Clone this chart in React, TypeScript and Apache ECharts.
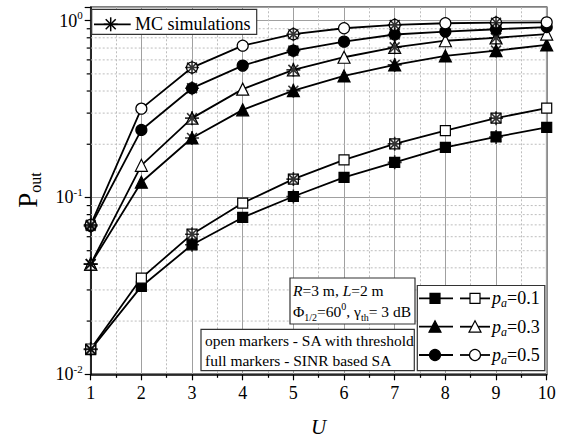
import React, { useEffect, useRef } from 'react';
import * as echarts from 'echarts';

// ---------- data ----------
const U = [1, 2, 3, 4, 5, 6, 7, 8, 9, 10];
// open markers - SA with threshold ; full markers - SINR based SA
const pa05Thr = [0.070, 0.318, 0.543, 0.722, 0.838, 0.906, 0.946, 0.967, 0.974, 0.978];
const pa05Sinr = [0.069, 0.241, 0.415, 0.557, 0.677, 0.761, 0.835, 0.867, 0.894, 0.92];
const pa03Thr = [0.042, 0.152, 0.281, 0.41, 0.527, 0.621, 0.707, 0.77, 0.8, 0.84];
const pa03Sinr = [0.042, 0.122, 0.217, 0.313, 0.402, 0.487, 0.562, 0.632, 0.677, 0.729];
const pa01Thr = [0.0139, 0.035, 0.062, 0.093, 0.127, 0.163, 0.201, 0.239, 0.281, 0.32];
const pa01Sinr = [0.0138, 0.0314, 0.054, 0.0771, 0.1013, 0.13, 0.158, 0.192, 0.22, 0.249];

// Monte Carlo simulation points
const mcU = [1, 3, 5, 7, 9];
const mcPa05Thr = [0.07, 0.543, 0.838, 0.946, 0.974];
const mcPa05Sinr = [0.069, 0.415, 0.677, 0.835, 0.894];
const mcPa03Thr = [0.042, 0.281, 0.527, 0.707, 0.8];
const mcPa03Sinr = [0.042, 0.217, 0.402, 0.562, 0.677];
const mcPa01Thr = [0.0139, 0.062, 0.127, 0.201, 0.281];
const mcPa01Sinr = [0.0138, 0.054, 0.1013, 0.158, 0.22];

const yMinorValues = [0.02, 0.03, 0.04, 0.05, 0.06, 0.07, 0.08, 0.09, 0.2, 0.3, 0.4, 0.5, 0.6, 0.7, 0.8, 0.9];
const legendLabels = ['0.1', '0.3', '0.5'];

const FONT = 'Liberation Serif';
const ASTERISK = 'path://M0,-6L0,6M-6,0L6,0M-4.24,-4.24L4.24,4.24M-4.24,4.24L4.24,-4.24';

const GRID = { left: 90.7, right: 21.3, top: 7.3, bottom: 63.7 };

function lineSeries(name: string, vals: number[], symbol: string, size: number, open: boolean) {
  return {
    type: 'line',
    name,
    data: U.map((u, i) => [u, vals[i]]),
    symbol,
    symbolSize: size,
    showAllSymbol: true,
    lineStyle: { color: '#000', width: 1.8 },
    itemStyle: { color: open ? '#fff' : '#000', borderColor: '#000', borderWidth: 1.2 },
    silent: true,
    z: 3,
  };
}

function mcSeries(vals: number[]) {
  return {
    type: 'scatter',
    name: 'MC simulations',
    data: mcU.map((u, i) => [u, vals[i]]),
    symbol: ASTERISK,
    symbolSize: 14,
    itemStyle: { color: 'rgba(0,0,0,0)', borderColor: '#000', borderWidth: 1.6 },
    silent: true,
    z: 4,
  };
}

function buildGraphics() {
  const els: any[] = [];
  // MC simulations legend
  els.push({ type: 'rect', shape: { x: 91.7, y: 9.3, width: 165, height: 25 }, style: { fill: '#fff', stroke: '#333', lineWidth: 1.2 }, z: 10 });
  els.push({ type: 'line', shape: { x1: 94, y1: 24.3, x2: 130.7, y2: 24.3 }, style: { stroke: '#000', lineWidth: 1.8 }, z: 11 });
  const ax = 110.7, ay = 24.3, r = 7, d = 5;
  [[0, -r, 0, r], [-r, 0, r, 0], [-d, -d, d, d], [-d, d, d, -d]].forEach((s) =>
    els.push({ type: 'line', shape: { x1: ax + s[0], y1: ay + s[1], x2: ax + s[2], y2: ay + s[3] }, style: { stroke: '#000', lineWidth: 1.5 }, z: 11 })
  );
  els.push({ type: 'text', x: 135, y: 24.3, style: { text: 'MC simulations', fontSize: 18, fontFamily: FONT, fill: '#000', verticalAlign: 'middle', align: 'left' }, z: 11 });

  // parameters box
  els.push({ type: 'rect', shape: { x: 290, y: 278, width: 125, height: 46 }, style: { fill: '#fff', stroke: '#333', lineWidth: 1.2 }, z: 10 });
  els.push({
    type: 'text', x: 293, y: 301, z: 11,
    style: {
      text: '{i|R}{n|=3 m, }{i|L}{n|=2 m}\n{n|Φ}{sub|1/2}{n|=60}{sup|0}{n|, γ}{sub|th}{n|= 3 dB}',
      verticalAlign: 'middle', align: 'left', fill: '#000',
      rich: {
        n: { fontSize: 15.5, fontFamily: FONT, lineHeight: 21, fill: '#000' },
        i: { fontSize: 15.5, fontFamily: FONT, fontStyle: 'italic', lineHeight: 21, fill: '#000' },
        sub: { fontSize: 10, fontFamily: FONT, lineHeight: 10, verticalAlign: 'bottom', fill: '#000' },
        sup: { fontSize: 10, fontFamily: FONT, lineHeight: 10, verticalAlign: 'top', fill: '#000' },
      },
    },
  });

  // markers description box
  els.push({ type: 'rect', shape: { x: 201, y: 329.3, width: 213.3, height: 41.4 }, style: { fill: '#fff', stroke: '#333', lineWidth: 1.2 }, z: 10 });
  els.push({ type: 'text', x: 205, y: 340.7, style: { text: 'open markers - SA with threshold', fontSize: 15.5, fontFamily: FONT, fill: '#000', verticalAlign: 'middle' }, z: 11 });
  els.push({ type: 'text', x: 205, y: 360.7, style: { text: 'full markers - SINR based SA', fontSize: 15.5, fontFamily: FONT, fill: '#000', verticalAlign: 'middle' }, z: 11 });

  // p_a legend
  els.push({ type: 'rect', shape: { x: 417.3, y: 285.5, width: 127.5, height: 85.2 }, style: { fill: '#fff', stroke: '#333', lineWidth: 1.2 }, z: 10 });
  const rows = [298.4, 326.7, 355];
  const kinds = ['rect', 'triangle', 'circle'];
  rows.forEach((y, k) => {
    els.push({ type: 'line', shape: { x1: 419, y1: y, x2: 453, y2: y }, style: { stroke: '#000', lineWidth: 1.8 }, z: 11 });
    els.push({ type: 'line', shape: { x1: 460, y1: y, x2: 490, y2: y }, style: { stroke: '#000', lineWidth: 1.8 }, z: 11 });
    [[435, '#000'], [475, '#fff']].forEach(([cx, fill]: any) => {
      const st = { fill, stroke: '#000', lineWidth: 1.2 };
      if (kinds[k] === 'rect') els.push({ type: 'rect', shape: { x: cx - 5, y: y - 5, width: 10, height: 10 }, style: st, z: 12 });
      else if (kinds[k] === 'triangle') els.push({ type: 'polygon', shape: { points: [[cx, y - 6], [cx + 6, y + 5.5], [cx - 6, y + 5.5]] }, style: st, z: 12 });
      else els.push({ type: 'circle', shape: { cx, cy: y, r: 5.5 }, style: st, z: 12 });
    });
    els.push({
      type: 'text', x: 492, y, z: 11,
      style: {
        text: `{p|p}{a|a}{n|=${legendLabels[k]}}`,
        verticalAlign: 'middle', align: 'left',
        rich: {
          p: { fontSize: 18, fontFamily: FONT, fontStyle: 'italic', lineHeight: 22, fill: '#000' },
          a: { fontSize: 12, fontFamily: FONT, fontStyle: 'italic', lineHeight: 11, verticalAlign: 'bottom', fill: '#000' },
          n: { fontSize: 18, fontFamily: FONT, lineHeight: 22, fill: '#000' },
        },
      },
    });
  });

  // axis titles
  els.push({
    type: 'text', x: 28, y: 190, rotation: Math.PI / 2, z: 11,
    style: {
      text: '{p|P}{s|out}', align: 'center', verticalAlign: 'middle',
      rich: {
        p: { fontSize: 27, fontFamily: FONT, lineHeight: 30, fill: '#000' },
        s: { fontSize: 16, fontFamily: FONT, lineHeight: 16, verticalAlign: 'bottom', fill: '#000' },
      },
    },
  });
  els.push({ type: 'text', x: 318.7, y: 427, z: 11, style: { text: 'U', fontSize: 21, fontStyle: 'italic', fontFamily: FONT, fill: '#000', align: 'center', verticalAlign: 'middle' } });
  return els;
}

export default function App() {
  const ref = useRef<HTMLDivElement>(null);
  useEffect(() => {
    if (!ref.current) return;
    const chart = echarts.init(ref.current, null, { renderer: 'svg' });
    const option: any = {
      animation: false,
      backgroundColor: '#fff',
      textStyle: { fontFamily: FONT },
      grid: { ...GRID, containLabel: false, outerBoundsMode: 'none', show: true, borderColor: '#000', borderWidth: 1.5, backgroundColor: 'transparent' },
      xAxis: {
        type: 'value', min: 1, max: 10, interval: 1,
        axisLine: { show: true, lineStyle: { color: '#000', width: 1.5 } },
        axisTick: { show: true, inside: false, length: 6, lineStyle: { color: '#000', width: 1.2 } },
        minorTick: { show: true, splitNumber: 2, length: 3.5, lineStyle: { color: '#000', width: 1.2 } },
        axisLabel: { fontSize: 18, fontFamily: FONT, color: '#000', margin: 10 },
        splitLine: { show: true, lineStyle: { color: '#a0a0a0', width: 1 } },
        minorSplitLine: { show: true, lineStyle: { color: '#bdbdbd', width: 1, type: [2, 2] } },
      },
      yAxis: {
        type: 'log', logBase: 10, min: 0.01, max: 1.19,
        axisLine: { show: true, lineStyle: { color: '#000', width: 1.5 } },
        axisTick: { show: true, inside: false, length: 6, lineStyle: { color: '#000', width: 1.2 } },
        axisLabel: {
          margin: 8,
          formatter: (v: number) => {
            const e = Math.log10(v);
            const r = Math.round(e);
            if (Math.abs(e - r) > 1e-6) return '';
            return `{b|10}{s|${r}}`;
          },
          rich: {
            b: { fontSize: 18, fontFamily: FONT, color: '#000', lineHeight: 22 },
            s: { fontSize: 11, fontFamily: FONT, color: '#000', lineHeight: 10, verticalAlign: 'top' },
          },
        },
        splitLine: { show: true, lineStyle: { color: '#a0a0a0', width: 1 } },
      },
      series: [
        {
          type: 'custom',
          coordinateSystem: 'cartesian2d',
          silent: true,
          clip: false,
          z: 1,
          data: yMinorValues.map((v) => [1, v]),
          renderItem: (params: any, api: any) => {
            const v = api.value(1);
            const p0 = api.coord([1, v]);
            const p1 = api.coord([10, v]);
            return {
              type: 'group',
              children: [
                { type: 'line', shape: { x1: p0[0], y1: p0[1], x2: p1[0], y2: p1[1] }, style: { stroke: '#bdbdbd', lineWidth: 1, lineDash: [2, 2] } },
                { type: 'line', shape: { x1: p0[0] - 4, y1: p0[1], x2: p0[0], y2: p0[1] }, style: { stroke: '#000', lineWidth: 1.2 } },
              ],
            };
          },
        },
        lineSeries('pa=0.1 SINR', pa01Sinr, 'rect', 10, false),
        lineSeries('pa=0.1 threshold', pa01Thr, 'rect', 10, true),
        lineSeries('pa=0.3 SINR', pa03Sinr, 'triangle', 12, false),
        lineSeries('pa=0.3 threshold', pa03Thr, 'triangle', 12, true),
        lineSeries('pa=0.5 SINR', pa05Sinr, 'circle', 11, false),
        lineSeries('pa=0.5 threshold', pa05Thr, 'circle', 11, true),
        mcSeries(mcPa01Sinr),
        mcSeries(mcPa01Thr),
        mcSeries(mcPa03Sinr),
        mcSeries(mcPa03Thr),
        mcSeries(mcPa05Sinr),
        mcSeries(mcPa05Thr),
      ],
      graphic: buildGraphics(),
    };
    chart.setOption(option);
    return () => chart.dispose();
  }, []);
  return <div ref={ref} style={{ position: 'fixed', left: 0, top: 0, width: 568, height: 438 }} />;
}
